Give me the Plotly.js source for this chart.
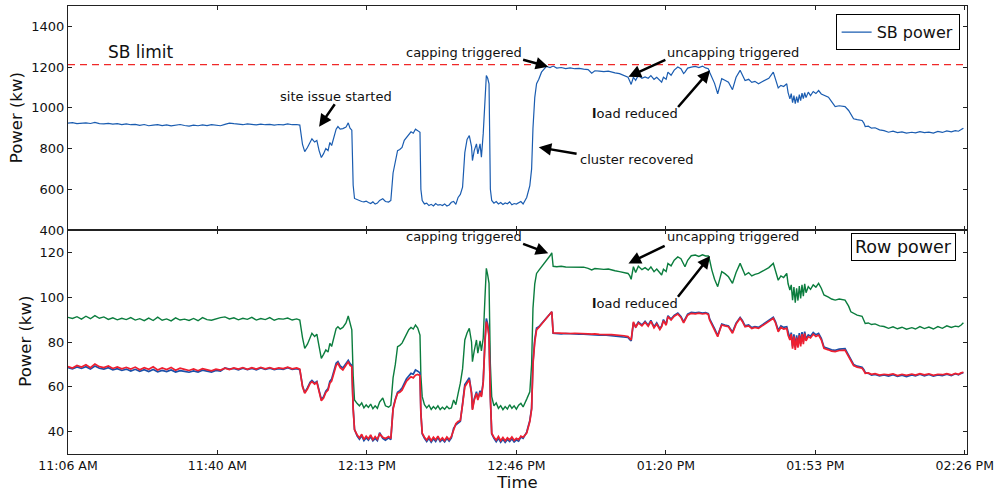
<!DOCTYPE html>
<html>
<head>
<meta charset="utf-8">
<script src="https://cdn.plot.ly/plotly-3.0.1.min.js"></script>
<style>html,body{margin:0;padding:0;background:#fff;}#chart{width:995px;height:492px;}</style>
</head>
<body>
<div id="chart"></div>
<script>
// time in minutes after 11:06 AM
const minutes = [
  0,1,2,3,4,5,6,7,8,9,10,11,12,13,14,15,16,17,18,19,20,21,22,23,24,25,26,27,28,29,30,31,32,33,34,35,36,37,38,39,40,41,42,43,44,45,46,47,48,49,50,51,
  51.7,52.3,52.8,53.4,54.0,54.4,55.0,55.5,56.0,56.5,57.0,57.5,58.0,58.4,58.8,59.3,59.8,60.2,60.7,61.3,62.0,62.5,62.9,63.3,
  63.6,63.9,64.5,65,65.5,66,66.5,67,67.5,68,68.5,69,69.5,70.2,70.8,71.5,72,
  72.5,73.0,73.5,74.0,74.5,75.0,75.5,76.0,76.5,77.0,77.5,78.0,78.5,
  78.7,79.0,79.5,80,80.5,81,81.5,82,82.5,83,83.5,84,84.5,85,85.5,86,86.5,87,87.5,
  88,88.5,89.0,89.5,90.0,90.2,90.6,91.1,91.4,91.9,92.2,92.6,93.0,93.3,93.6,93.9,
  94.2,94.5,95,95.5,96,96.5,97,97.5,98,98.5,99,99.5,100,100.5,101,101.5,102.3,103.0,
  103.4,103.7,104.1,104.5,105.0,105.6,106.2,106.7,107.5,107.9,
  108.2,109,110,111,112,113,114,115,116,116.8,117.5,118.5,119.5,120.5,121.2,122,123,124,124.9,
  125.3,125.6,126.1,126.6,127.2,128,128.7,129.4,130,130.7,131.3,132,132.4,132.8,133.4,133.8,134.5,135.2,136.0,136.7,137.3,137.6,138.2,139.0,139.9,140.7,141.5,142.2,142.8,
  143.1,143.6,144.2,144.9,145.4,145.8,146.5,147.3,148.2,149.0,149.9,150.4,151.0,151.8,152.5,153.2,154.0,154.8,155.5,156.3,157.3,157.8,158.4,159.0,159.6,160.3,
  160.6,161.0,161.3,161.6,161.9,162.2,162.5,162.8,163.1,163.4,163.7,164.0,164.3,164.6,165.1,165.6,166.2,166.8,167.4,168,168.6,169.6,170.3,171.1,172,173.3,
  174.1,174.6,175.2,176,177.1,177.5,177.8,178.5,179.2,180,181,182,183,184,185,186,187,188.2,189,190,191,192,193,194,195,196,197,197.9,198.6,199.2,199.7
];

const sbPower = [
  925,927,922,924,926,923,928,922,921,924,920,922,918,921,917,919,914,918,912,915,917,913,916,911,914,918,913,910,915,912,916,913,917,915,912,919,925,922,920,917,921,918,916,920,917,919,915,918,916,921,917,918,
  915,820,785,805,835,848,832,840,790,756,775,800,790,830,815,860,895,908,895,898,905,926,900,890,
  620,555,548,545,540,538,542,535,530,538,527,532,545,553,540,537,545,
  680,730,790,795,805,840,855,870,882,875,895,888,880,
  600,545,528,532,520,526,518,530,522,525,520,528,518,523,536,540,526,560,575,
  610,780,845,864,810,741,790,823,774,823,757,872,1050,1159,1145,1118,
  600,545,532,540,528,535,525,533,529,538,524,530,527,533,540,528,560,618,
  700,900,1050,1118,1140,1175,1190,1203,1198,1200,
  1205,1195,1198,1193,1196,1192,1194,1190,1188,1170,1182,1180,1178,1180,1175,1172,1168,1160,1150,
  1130,1115,1150,1135,1160,1145,1152,1145,1158,1140,1150,1135,1126,1150,1140,1175,1160,1185,1200,1192,1168,1175,1195,1200,1203,1198,1205,1196,1192,
  1175,1150,1120,1069,1110,1143,1135,1126,1089,1150,1184,1160,1134,1140,1125,1130,1118,1128,1135,1145,1175,1140,1098,1110,1105,1118,
  1075,1044,1070,1025,1060,1020,1055,1025,1065,1035,1072,1045,1075,1050,1077,1060,1080,1070,1085,1068,1062,1052,1030,1006,1010,1006,
  987,965,946,942,938,925,908,910,900,902,892,888,880,885,878,882,876,880,877,883,878,881,876,884,879,887,882,888,885,893,900
];

const rowGreen = [
  91.0,90.5,91.3,90.2,91.5,90.4,91.8,90.6,91.2,90.1,90.8,89.9,90.6,90.0,90.9,89.8,90.4,89.5,90.7,89.6,91.1,89.7,90.3,89.4,90.8,89.8,90.2,89.6,90.5,89.5,90.9,90.0,89.7,90.4,90.9,91.2,90.3,90.8,89.9,90.6,90.1,91.0,89.8,90.5,90.0,90.9,89.7,90.4,90.2,90.7,89.8,90.3,
  89.8,82,77.2,79,82.5,83.9,82.5,83.5,78,72.7,74.5,76.5,75.5,79.4,78.0,82,86.0,86.8,85.8,86.5,88.5,91.6,88.5,85.4,
  65,54.1,52.5,51.5,52.8,50.6,51.9,50.8,52.3,50.2,51.5,50.4,53.2,55,51.5,50.9,51.8,
  64,70,77.9,78.5,79.5,81.5,83.9,85.5,86.5,85.8,87.6,86.2,83.1,
  65,55.6,52.0,50.6,51.8,49.9,51.2,50.1,51.5,49.8,50.9,50.0,51.3,50.2,50.6,54.1,52,57,61.6,
  68,80.9,84,86.1,80,71.2,76,80.9,75,80.5,76,81.6,100,112.9,110,106.2,
  70,55.6,51.5,52.8,50.4,51.6,49.8,51.2,50.1,52.0,50.4,51.5,50.0,51.8,52.6,51,54.5,57.8,
  70,95,106,110.6,112,113.5,115.1,116.5,118.5,119.8,
  113.8,113.6,113.8,113.5,113.4,113.5,113.2,113.4,112.9,112.2,112.8,112.6,112.4,112.6,112.1,111.8,111.4,111.0,110.6,
  109.5,108,113.6,111,113.8,112.3,113.2,112.1,113.5,111.4,112.6,110.5,109.9,112.5,111.5,115.1,114.0,116.5,118,117.2,115.0,113.6,116.5,118.5,118.8,118.2,118.9,118.4,118.4,
  116.6,112.1,108,104.7,108.5,111.4,110.5,109.1,106.2,111,115.1,113,109.9,111,109.5,110.2,110.6,111.5,112.3,113.2,115.1,112,107.6,109.5,108.8,110.6,
  106,103.2,105.5,98.7,104.5,97.5,104,98.5,105,99.5,105.5,100.5,106,102,104.7,103.5,105.5,104.5,106.2,104,101,100,99.2,98.7,99.2,98.7,
  96,93.5,92.8,92.0,91.5,89.5,88.3,88.5,87.8,88.1,87.2,86.9,86.1,86.8,85.9,86.6,85.7,86.4,85.8,86.9,86.0,86.7,85.8,86.9,86.1,87.2,86.5,87.1,86.8,87.6,88.6
];

const rowBlue = [
  68.6,68.0,68.9,68.2,69.0,67.9,69.3,68.3,67.9,68.5,67.6,68.1,67.3,67.9,67.0,67.8,66.9,67.6,66.8,67.7,66.7,67.3,66.8,67.5,66.6,67.2,66.9,66.5,67.1,66.6,67.4,67.0,66.6,67.3,67.0,68.4,67.9,68.2,67.6,68.3,67.7,68.2,67.6,68.4,67.8,68.3,67.7,68.1,67.8,68.5,67.8,68.1,
  67.6,60.5,57.5,59.5,62.0,62.8,61.6,62.4,57.8,54.3,55.5,58.0,59.2,62.4,63.5,67,70.5,71.2,69.3,68.4,70.5,71.8,70.3,69.6,
  50.5,41.0,38.0,36.6,38.2,36.0,37.3,36.2,37.8,35.9,37.0,36.0,39.5,37.0,36.2,37.2,36.4,
  50.5,54.5,57.6,58.3,59.4,61.5,63.6,64.8,66.0,65.6,67.5,67.0,66.2,
  48.5,39.0,37.0,35.6,37.0,35.3,36.8,35.6,37.4,35.5,36.5,35.4,37.0,35.8,37.2,41.5,43.0,44.0,44.6,
  52.5,61,62.5,64.0,57.5,50.2,54.6,57.8,54.6,58.2,56.2,62.3,81,90.5,88,83.2,
  55.5,39.0,37.0,35.5,37.0,35.3,36.6,35.2,36.5,35.6,36.8,35.4,36.3,35.8,37.6,37.0,39.8,45.0,
  50.5,71,81,86.2,86.8,88.2,89.3,90.6,92.6,93.5,
  83.9,83.7,83.6,83.8,83.6,83.6,83.5,83.5,83.3,83.2,83.3,83.1,83.2,83.0,83.0,82.9,82.7,82.5,82.0,
  81.0,80.5,88.5,86.8,88.9,87.6,89.2,87.5,89.6,86.8,88.5,86.0,87.2,90.0,88.0,91.7,90.2,91.9,92.9,91.4,89.0,90.0,92.4,93.2,93.0,93.2,92.9,93.1,92.7,
  90.3,88.0,86.0,82.9,86.0,88.0,87.6,87.2,84.4,88.4,91.0,89.6,87.2,87.6,86.4,86.9,86.5,87.6,88.4,89.3,91.0,89.0,85.2,87.2,86.5,86.8,
  84,81.6,84.2,78.0,83.4,77.6,83.0,78.6,84.0,79.2,84.4,80.2,84.6,81.4,83.2,82.6,84.2,83.2,83.8,81.6,77.8,77.1,76.5,76.3,76.8,77.0,
  74.0,71.8,70.0,69.2,68.7,67.6,66.4,66.0,65.2,65.5,64.9,65.3,64.8,65.4,64.7,65.2,64.6,65.3,64.9,65.6,64.9,65.5,64.8,65.3,65.0,65.6,65.0,65.8,65.3,66.0,66.4
];

const rowRed = [
  69.0,68.4,69.5,68.8,69.8,68.5,70.2,69.0,68.6,69.3,68.2,68.9,68.0,68.7,67.9,68.8,67.6,68.5,67.8,68.9,67.5,68.4,67.7,68.6,67.4,68.3,67.8,67.3,68.0,67.2,68.1,67.6,67.1,67.9,67.5,68.3,67.7,68.4,67.9,68.6,67.8,68.5,67.9,68.7,68.0,68.6,67.9,68.4,68.1,68.8,68.0,68.4,
  67.9,60,57.1,59,61.5,62.3,61.2,62.0,57.5,53.8,55.0,57.5,58.5,61.6,62.5,66,69.5,70.5,68.5,67.5,69.8,71.2,69.5,69.0,
  50,40.8,38.5,37.2,38.8,36.5,38.0,36.8,38.5,36.4,37.8,36.6,38.9,37.5,36.9,37.8,37.0,
  50,54.1,57.1,57.5,58.5,60.5,62.5,63.5,64.5,64.0,65.2,65.5,65.0,
  48,39.3,37.5,36.2,37.8,36.0,37.5,36.3,38.0,36.1,37.2,36.0,37.6,36.4,37.8,41.0,43.5,44.5,45,
  52,60,61.6,63.1,57,49.7,54,57.1,54.1,57.5,55.5,61.6,80,89.1,87,82.4,
  55,39.3,37.5,36.2,37.8,36.0,37.4,35.9,37.2,36.3,37.6,36.1,37.0,36.4,38.0,37.5,39.3,44.5,
  50,70,80,85.4,86.5,88,89.1,90.5,92.5,93.5,
  84.1,84.0,83.9,84.0,83.8,83.9,83.7,83.8,83.6,83.5,83.6,83.4,83.5,83.3,83.3,83.2,83.0,82.8,82.4,
  81.5,80.9,89.0,86.5,88.5,87.2,88.8,87.0,89.2,86.3,88.0,85.5,86.8,89.5,87.5,91.3,89.8,91.5,92.5,91.0,88.5,89.5,92.0,92.8,92.6,92.9,92.5,92.8,92.3,
  89.8,87.6,85.5,82.4,85.5,87.6,87.2,86.8,83.9,88,90.6,89.2,86.8,87.2,86.0,86.5,86.1,87.2,88.0,88.9,90.6,88.5,84.6,86.5,85.8,86.1,
  83,80.9,83.5,77.0,82.5,76.5,82,77.5,83,78,83.5,79.0,83.8,80.5,82.4,81.8,83.5,82.5,83.1,81.0,77.2,76.5,75.9,75.7,76.2,76.4,
  73.5,71.2,69.5,68.8,68.3,67.2,66.0,66.2,65.6,65.9,65.2,65.6,65.3,65.8,65.0,65.6,65.1,65.7,65.2,65.9,65.3,65.8,65.1,65.6,65.4,65.9,65.3,66.0,65.6,66.2,66.5
];

const sbLimit = 1212;
const xTickVals = [0, 33.333, 66.667, 100, 133.333, 166.667, 200];
const xTickText = ['11:06 AM', '11:40 AM', '12:13 PM', '12:46 PM', '01:20 PM', '01:53 PM', '02:26 PM'];
const sbTicks = [400, 600, 800, 1000, 1200, 1400];
const rowTicks = [40, 60, 80, 100, 120];

const FONT = 'DejaVu Sans, Liberation Sans, sans-serif';
const AX = '#222';

const traces = [
  {x: minutes, y: sbPower, xaxis: 'x2', yaxis: 'y2', type: 'scatter', mode: 'lines',
   name: 'SB power', line: {color: '#1a5cb0', width: 1.2}, showlegend: true},
  {x: minutes, y: rowGreen, xaxis: 'x', yaxis: 'y', type: 'scatter', mode: 'lines',
   name: 'row A', line: {color: '#0b7d3e', width: 1.4}, showlegend: false},
  {x: minutes, y: rowBlue, xaxis: 'x', yaxis: 'y', type: 'scatter', mode: 'lines',
   name: 'row B', line: {color: '#1b50a8', width: 1.7}, showlegend: false},
  {x: minutes, y: rowRed, xaxis: 'x', yaxis: 'y', type: 'scatter', mode: 'lines',
   name: 'row C', line: {color: '#ee1f30', width: 1.7}, showlegend: false}
];

const axCommon = {showline: true, linecolor: AX, linewidth: 1, mirror: 'ticks', ticks: 'inside',
  ticklen: 4, tickcolor: AX, tickwidth: 1, showgrid: false, zeroline: false,
  tickfont: {family: FONT, size: 13, color: '#111'}};

function arrow(xref, yref, x, y, ax, ay) {
  return {xref: xref, yref: yref, x: x, y: y, ax: ax, ay: ay, text: '', showarrow: true,
    arrowhead: 2, arrowsize: 1, arrowwidth: 2.5, arrowcolor: '#000', standoff: 0, startstandoff: 0};
}
function label(xref, yref, x, y, txt, size, angle) {
  return {xref: xref, yref: yref, x: x, y: y, text: txt, showarrow: false, textangle: angle || 0,
    font: {family: FONT, size: size || 13, color: '#111'}, xanchor: 'center', yanchor: 'middle'};
}

const annotations = [
  label('paper', 'paper', -0.0571, 0.751, 'Power (kw)', 16.5, -90),
  label('paper', 'paper', -0.0467, 0.2507, 'Power (kw)', 16.5, -90),
  label('x2', 'y2', 16.3, 1275, 'SB limit', 17),
  label('x2', 'y2', 59.8, 1058, 'site issue started'),
  arrow('x2', 'y2', 56.0, 907, 16.7, -24),
  label('x2', 'y2', 88.3, 1271, 'capping triggered'),
  arrow('x2', 'y2', 107.1, 1202, -26.6, -7.4),
  label('x2', 'y2', 148.3, 1271, 'uncapping triggered'),
  arrow('x2', 'y2', 125.0, 1153, 38.4, -17.4),
  label('x2', 'y2', 126.4, 973, '<b>l</b>oad reduced'),
  arrow('x2', 'y2', 143.2, 1185, -33.3, 38.3),
  label('x2', 'y2', 126.9, 744, 'cluster recovered'),
  arrow('x2', 'y2', 105.0, 806, 39.3, 6.7),
  label('x', 'y', 88.3, 127.0, 'capping triggered'),
  arrow('x', 'y', 107.1, 119.6, -26.6, -10),
  label('x', 'y', 148.3, 127.0, 'uncapping triggered'),
  arrow('x', 'y', 125.0, 115.1, 37.7, -18.3),
  label('x', 'y', 126.4, 97.3, '<b>l</b>oad reduced'),
  arrow('x', 'y', 143.2, 118.4, -33.3, 42.3),
  {xref: 'paper', yref: 'paper', x: 0.9878, y: 0.4936, xanchor: 'right', yanchor: 'top',
   text: 'Row power', showarrow: false, font: {family: FONT, size: 17.5, color: '#111'},
   bordercolor: '#000', borderwidth: 1, borderpad: 3, bgcolor: '#fff'}
];

const layout = {
  width: 995, height: 492,
  margin: {l: 68, r: 28, t: 6, b: 38},
  paper_bgcolor: '#fff', plot_bgcolor: '#fff',
  font: {family: FONT, color: '#111'},
  showlegend: true,
  legend: {x: 0.9918, xanchor: 'right', y: 0.9815, yanchor: 'top', bordercolor: '#000', borderwidth: 1,
    bgcolor: '#fff', font: {family: FONT, size: 16, color: '#111'}},
  xaxis: Object.assign({}, axCommon, {domain: [0, 1], anchor: 'y', range: [0, 200.5],
    tickmode: 'array', tickvals: xTickVals, ticktext: xTickText,
    tickfont: {family: FONT, size: 12.5, color: '#111'},
    title: {text: 'Time', font: {family: FONT, size: 16.5, color: '#111'}, standoff: 6}}),
  xaxis2: Object.assign({}, axCommon, {domain: [0, 1], anchor: 'y2', matches: 'x', range: [0, 200.5],
    tickmode: 'array', tickvals: xTickVals, showticklabels: false}),
  yaxis: Object.assign({}, axCommon, {domain: [0, 0.5], anchor: 'x', range: [30, 130],
    tickmode: 'array', tickvals: rowTicks}),
  yaxis2: Object.assign({}, axCommon, {domain: [0.5, 1], anchor: 'x2', range: [400, 1500],
    tickmode: 'array', tickvals: sbTicks}),
  shapes: [{type: 'line', xref: 'x2 domain', yref: 'y2', x0: 0, x1: 1, y0: sbLimit, y1: sbLimit,
    line: {color: '#f02828', width: 1.2, dash: '7px,5px'}}],
  annotations: annotations
};

Plotly.newPlot('chart', traces, layout, {staticPlot: true, displayModeBar: false});
</script>
</body>
</html>
